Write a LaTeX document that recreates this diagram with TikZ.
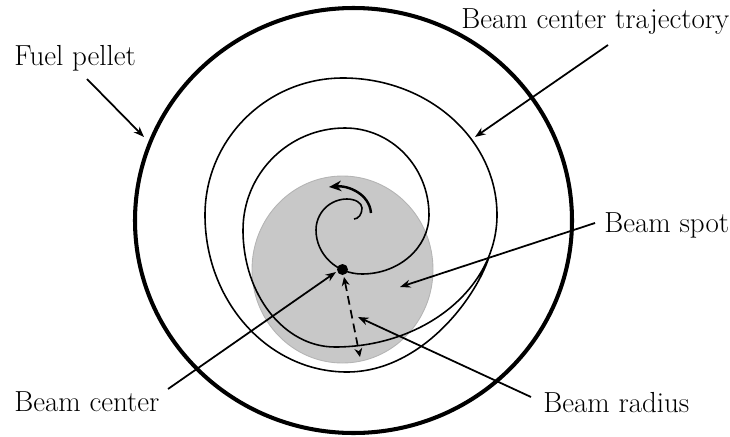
\documentclass[tikz,border=0pt]{standalone}
\usepackage{xcolor}
\usepackage{tikz}
\usetikzlibrary{arrows.meta}
\definecolor{spotgray}{HTML}{C8C8C8}
\definecolor{spotedge}{HTML}{B4B4B4}
\tikzset{
  pellet/.style={line width=2.3pt},
  traj/.style={line width=0.9pt},
  callout/.style={-{Stealth[length=6pt,width=4.5pt]}, line width=1pt},
  lbl/.style={font=\fontsize{16.5}{19}\selectfont, inner sep=0pt, anchor=base west},
}

\begin{document}
\begin{tikzpicture}[x=0.02cm, y=-0.02cm]
    \useasboundingbox (0,0) rectangle (730,436);
    % beam spot
    \coordinate (C) at (342.5,269.5);
    \fill[spotgray, draw=spotedge, line width=0.5pt] (C) ellipse [x radius=90.5, y radius=93.5];
    % fuel pellet
    \coordinate (P) at (353.5,220.5);
    \draw[pellet] (P) ellipse [x radius=218.5, y radius=212.5];
    % beam center trajectory, quarter arcs from the inner end outwards
    \draw[traj] (354,219)
        arc[start angle=90, end angle=0, x radius=8, y radius=11]
        arc[start angle=0, end angle=-90, x radius=15, y radius=9]
        arc[start angle=-90, end angle=-180, x radius=31, y radius=31]
        arc[start angle=180, end angle=90, x radius=46, y radius=44]
        arc[start angle=90, end angle=0, x radius=67, y radius=59]
        arc[start angle=0, end angle=-90, x radius=84, y radius=87]
        arc[start angle=-90, end angle=-180, x radius=102, y radius=102]
        arc[start angle=180, end angle=90, x radius=92, y radius=117]
        arc[start angle=90, end angle=0, x radius=162, y radius=132]
        arc[start angle=0, end angle=-90, x radius=154, y radius=137]
        arc[start angle=-90, end angle=-180, x radius=138, y radius=137]
        arc[start angle=180, end angle=90, x radius=142, y radius=157]
        .. controls (420,372) and (475,300) .. (489,257);
    % direction of motion
    \draw[line width=1.4pt, -{Stealth[length=7pt,width=6pt]}] (371,213) to[out=95, in=5] (329,187);
    % beam center and radius
    \fill (C) circle (5.5);
    \coordinate (R) at (360,357);
    \draw[line width=1pt, dashed, dash pattern=on 5pt off 3pt, {Stealth[length=5pt,width=4.5pt]}-{Stealth[length=5pt,width=4.5pt]}] (344,277) -- (R);
    % labels
    \node[lbl] (fuel) at (14,65) {Fuel pellet};
    \node[lbl] (traj) at (461,29) {Beam center trajectory};
    \node[lbl] (spot) at (604,232) {Beam spot};
    \node[lbl] (radius) at (543,412) {Beam radius};
    \node[lbl] (center) at (14,411) {Beam center};
    % callouts
    \coordinate (fuelA) at (87,79);
    \coordinate (fuelB) at (144,137);
    \coordinate (trajA) at (608,45);
    \coordinate (trajB) at (475,137);
    \coordinate (spotA) at (595,223);
    \coordinate (spotB) at (400,287);
    \coordinate (radiusA) at (531,397);
    \coordinate (radiusB) at (358,317);
    \coordinate (centerA) at (168,389);
    \coordinate (centerB) at (336,272);
    \draw[callout] (fuelA) -- (fuelB);
    \draw[callout] (trajA) -- (trajB);
    \draw[callout] (spotA) -- (spotB);
    \draw[callout] (radiusA) -- (radiusB);
    \draw[callout] (centerA) -- (centerB);
\end{tikzpicture}
\end{document}
